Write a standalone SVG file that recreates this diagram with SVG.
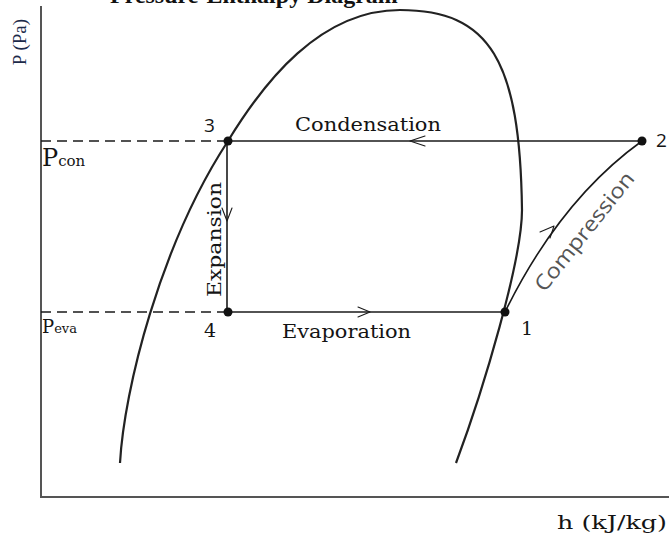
<svg xmlns="http://www.w3.org/2000/svg" width="669" height="539" viewBox="0 0 669 539">
  <style>
    .lbl { font-family: "DejaVu Serif", "Liberation Serif", serif; fill: #141414; }
    .num { font-family: "DejaVu Serif", "Liberation Serif", serif; fill: #141414; font-size: 19px; }
    .sans { font-family: "Open Sans", "Liberation Sans", sans-serif; }
    .line { stroke: #1a1a1a; stroke-width: 1.6; fill: none; }
    .dash { stroke: #1a1a1a; stroke-width: 1.4; stroke-dasharray: 10 6; fill: none; }
    .dome { stroke: #222; stroke-width: 2.2; fill: none; }
    .axis { stroke: #555; stroke-width: 2; fill: none; }
    .chev { stroke: #1a1a1a; stroke-width: 1.1; fill: none; stroke-linecap: round; stroke-linejoin: round; }
    .dot { fill: #111; }
  </style>
  <rect width="669" height="539" fill="#fff"/>

  <text x="110" y="2.5" font-family="Liberation Serif, serif" font-weight="bold" font-size="24" fill="#111">Pressure-Enthalpy Diagram</text>

  <g id="axes">
    <path class="axis" d="M41,6 V497 H669"/>
    <text x="26" y="42" transform="rotate(-90 26 42)" text-anchor="middle" font-family="Liberation Serif, serif" font-size="19" fill="#1c2a4a">P (Pa)</text>
    <text class="lbl" x="667" y="529" text-anchor="end" font-size="19" textLength="110" lengthAdjust="spacingAndGlyphs">h (kJ/kg)</text>
  </g>

  <g id="dome">
    <path class="dome" d="M120,463 C124,390 160,245 228,141 C264,82 320,10 400,10 C490,10 520,60 522,210 C522,260 484,388 456,463"/>
  </g>

  <g id="connectors">
    <path class="dash" d="M41,141 H228"/>
    <path class="dash" d="M41,312 H228"/>
    <path class="line" d="M228,141 H642"/>
    <path class="line" d="M228,312 H505"/>
    <path class="line" d="M227,141 V312"/>
    <path class="line" d="M505,312 Q560,200 642,141"/>
    <path class="chev" d="M358,307 L370,312 L358,317"/>
    <path class="chev" d="M425,136 L410,141 L425,146"/>
    <path class="chev" d="M222,208 L227,221 L232,208"/>
    <path class="chev" d="M540,232 L554,226 L550,238"/>
  </g>

  <g id="p3">
    <circle class="dot" cx="228" cy="141" r="4.5"/>
    <text class="num sans" x="204" y="132" font-size="19">3</text>
  </g>
  <g id="p2">
    <circle class="dot" cx="642" cy="141" r="4.5"/>
    <text class="num sans" x="656" y="147" font-size="19">2</text>
  </g>
  <g id="p4">
    <circle class="dot" cx="228" cy="312" r="4.5"/>
    <text class="num" x="204" y="337">4</text>
  </g>
  <g id="p1">
    <circle class="dot" cx="505" cy="312" r="4.5"/>
    <text class="num" x="521" y="335">1</text>
  </g>

  <g id="labels">
    <text class="lbl" x="42" y="166" font-size="24">P<tspan font-size="15">con</tspan></text>
    <text class="lbl" x="42" y="333" font-size="18">P<tspan font-size="13">eva</tspan></text>
    <text class="lbl" x="295" y="131" font-size="19" textLength="146" lengthAdjust="spacingAndGlyphs">Condensation</text>
    <text class="lbl" x="282" y="338" font-size="19" textLength="129" lengthAdjust="spacingAndGlyphs">Evaporation</text>
    <text class="lbl" x="221" y="297" transform="rotate(-90 221 297)" font-size="19" textLength="115" lengthAdjust="spacingAndGlyphs">Expansion</text>
    <text class="sans" x="590" y="236" transform="rotate(-51.4 590 236)" text-anchor="middle" font-size="21" fill="#555" textLength="146" lengthAdjust="spacingAndGlyphs">Compression</text>
  </g>
</svg>
